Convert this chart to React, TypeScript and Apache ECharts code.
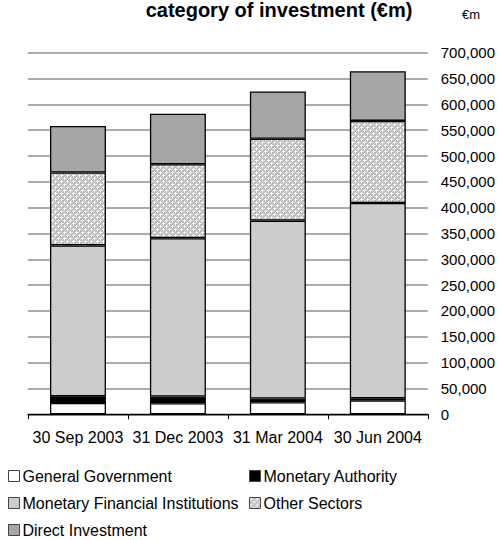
import React, { useEffect, useRef } from "react";
import * as echarts from "echarts";

const categories = ["30 Sep 2003", "31 Dec 2003", "31 Mar 2004", "30 Jun 2004"];
const generalGovernment = [22000, 21500, 23500, 27000];
const monetaryAuthority = [13000, 13000, 7000, 4000];
const monetaryFinancialInstitutions = [292000, 306500, 344500, 378000];
const otherSectors = [141000, 143000, 158500, 159000];
const directInvestment = [90000, 98000, 91500, 96000];
const seriesNames = [
  "General Government",
  "Monetary Authority",
  "Monetary Financial Institutions",
  "Other Sectors",
  "Direct Investment",
];
const titleText = "category of investment (€m)";
const unitText = "€m";

function makePattern(): HTMLCanvasElement {
  const c = document.createElement("canvas");
  c.width = 6;
  c.height = 6;
  const ctx = c.getContext("2d")!;
  ctx.fillStyle = "#b8b8b8";
  ctx.fillRect(0, 0, 6, 6);
  ctx.fillStyle = "#f8f8f8";
  // white diamonds / crosses on grey field
  const white = [
    [1, 0], [0, 1], [1, 1], [2, 1], [1, 2],
    [4, 3], [3, 4], [4, 4], [5, 4], [4, 5],
  ];
  white.forEach(([x, y]) => ctx.fillRect(x, y, 1, 1));
  ctx.fillStyle = "#e2e2e2";
  [[4, 0], [1, 3], [3, 1], [0, 4], [5, 2], [2, 5]].forEach(([x, y]) => ctx.fillRect(x, y, 1, 1));
  return c;
}

export default function App() {
  const ref = useRef<HTMLDivElement>(null);
  useEffect(() => {
    document.body.style.margin = "0";
    const chart = echarts.init(ref.current!, undefined, { renderer: "svg" });
    const font = "'Liberation Sans', Arial, sans-serif";
    const border = { borderColor: "#000", borderWidth: 1.3 };
    const colors = ["#ffffff", "#000000", "#cccccc", { image: makePattern(), repeat: "repeat" }, "#a6a6a6"];
    const datas = [generalGovernment, monetaryAuthority, monetaryFinancialInstitutions, otherSectors, directInvestment];
    const legendPos = [
      { left: 8, top: 468 },
      { left: 249, top: 468 },
      { left: 8, top: 495 },
      { left: 249, top: 495 },
      { left: 8, top: 522 },
    ];
    chart.setOption({
      animation: false,
      textStyle: { fontFamily: font },
      grid: { left: 28, right: 68, top: 52.7, bottom: 125.7, containLabel: false },
      graphic: [
        {
          type: "text",
          x: 279,
          y: 0,
          style: {
            text: titleText,
            align: "center",
            verticalAlign: "top",
            font: `bold 20px ${font}`,
            fill: "#000",
          },
        },
        {
          type: "text",
          x: 462,
          y: 14,
          style: {
            text: unitText,
            align: "left",
            verticalAlign: "middle",
            font: `13px ${font}`,
            fill: "#000",
          },
        },
      ],
      legend: seriesNames.map((n, i) => ({
        data: [n],
        orient: "horizontal",
        left: legendPos[i].left,
        top: legendPos[i].top,
        padding: 0,
        itemWidth: 11,
        itemHeight: 11,
        icon: "rect",
        selectedMode: false,
        itemStyle: { borderColor: "#444", borderWidth: 1 },
        textStyle: { fontSize: 16, color: "#000", fontFamily: font, padding: [0, 0, 0, -2] },
      })),
      xAxis: {
        type: "category",
        data: categories,
        axisLine: { lineStyle: { color: "#000", width: 1.3 } },
        axisTick: { show: true, length: 5, lineStyle: { color: "#000", width: 1 } },
        axisLabel: { fontSize: 16, color: "#000", margin: 15, interval: 0, hideOverlap: false, fontFamily: font },
        splitLine: { show: false },
      },
      yAxis: {
        type: "value",
        position: "right",
        min: 0,
        max: 700000,
        interval: 50000,
        axisLine: { show: false },
        axisTick: { show: false },
        axisLabel: {
          fontSize: 15,
          color: "#000",
          margin: 13,
          align: "left",
          fontFamily: font,
          formatter: (v: number) => v.toLocaleString("en-US"),
        },
        splitLine: { lineStyle: { color: "#ababab", width: 2 } },
      },
      series: seriesNames.map((n, i) => ({
        name: n,
        type: "bar",
        stack: "total",
        barWidth: "56%",
        data: datas[i],
        itemStyle: { color: colors[i], ...border },
      })),
    });
    return () => chart.dispose();
  }, []);
  return <div ref={ref} style={{ width: 498, height: 540 }} />;
}
